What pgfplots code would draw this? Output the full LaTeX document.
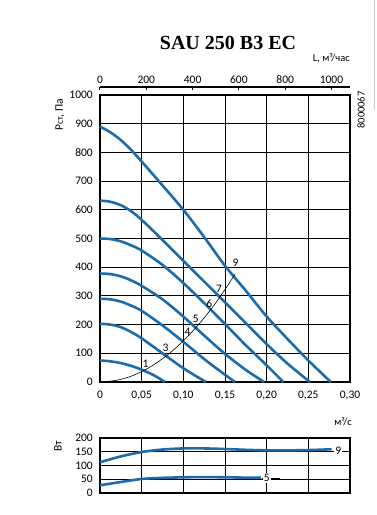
\documentclass[border=0pt]{standalone}
\usepackage{fontspec}
\setmainfont{Carlito}
\newfontfamily\titlefont{Liberation Serif}
\usepackage{pgfplots}
\pgfplotsset{compat=1.18}
\definecolor{fanblue}{RGB}{28,107,170}
\newcommand{\lblfont}{\fontsize{11.5}{13}\selectfont}
\begin{document}
\begin{tikzpicture}
\useasboundingbox (0pt,0pt) rectangle (376pt,515pt);
\pgfplotsset{
  every axis/.append style={
    scale only axis,
    /pgf/number format/assume math mode=true,
    /pgf/number format/1000 sep={},
    tick label style={font=\lblfont, inner sep=0pt},
    axis line style={black, line width=1.1pt},
    major grid style={black, line width=0.9pt},
  },
  fan/.style={fanblue, line width=2.6pt, smooth, no marks},
}
% main chart
\begin{axis}[at={(100pt,133pt)}, anchor=south west, width=250pt, height=287pt,
  xmin=0, xmax=0.3, ymin=0, ymax=1000,
  xtick={0,0.05,0.1,0.15,0.2,0.25,0.3},
  xticklabels={0,{0,05},{0,10},{0,15},{0,20},{0,25},{0,30}},
  ytick={0,100,200,300,400,500,600,700,800,900,1000},
  grid=major, major tick length=0pt,
  xticklabel style={yshift=-9pt},
  yticklabel style={xshift=-7pt},
  clip=false]
\addplot[fan] coordinates {(0,75)(0.0125,72)(0.025,66)(0.0375,56)(0.05,43)(0.065,23)(0.078,0)};
\addplot[fan] coordinates {(0,203)(0.0125,200)(0.025,191)(0.0375,174)(0.05,152)(0.075,100)(0.1,48)(0.127,0)};
\addplot[fan] coordinates {(0,290)(0.0125,288)(0.025,280)(0.0375,266)(0.05,248)(0.075,197)(0.1,140)(0.125,80)(0.145,36)(0.162,0)};
\addplot[fan] coordinates {(0,378)(0.0125,376)(0.025,368)(0.0375,354)(0.05,335)(0.075,288)(0.1,228)(0.125,162)(0.15,98)(0.175,42)(0.197,0)};
\addplot[fan] coordinates {(0,500)(0.0125,498)(0.025,490)(0.0375,476)(0.05,458)(0.075,408)(0.1,345)(0.125,275)(0.15,202)(0.175,128)(0.2,58)(0.22,0)};
\addplot[fan] coordinates {(0,632)(0.0125,628)(0.025,616)(0.0375,595)(0.05,565)(0.075,495)(0.1,422)(0.125,350)(0.15,278)(0.175,205)(0.2,132)(0.225,64)(0.252,0)};
\addplot[fan] coordinates {(0,890)(0.0125,870)(0.025,843)(0.0375,808)(0.05,768)(0.075,685)(0.1,600)(0.125,505)(0.15,405)(0.175,318)(0.2,228)(0.225,150)(0.25,75)(0.277,0)};
\addplot[black, line width=0.6pt, smooth, no marks] coordinates {(0,0)(0.02,6)(0.04,23)(0.06,52)(0.08,92)(0.1,143)(0.12,206)(0.14,280)(0.162,375)};
\node[font=\lblfont, inner sep=0pt] at (axis cs:0.0545,62) {1};
\node[font=\lblfont, inner sep=0pt] at (axis cs:0.0786,120) {3};
\node[font=\lblfont, inner sep=0pt] at (axis cs:0.105,174) {4};
\node[font=\lblfont, inner sep=0pt] at (axis cs:0.115,220) {5};
\node[font=\lblfont, inner sep=0pt] at (axis cs:0.131,273) {6};
\node[font=\lblfont, inner sep=0pt] at (axis cs:0.1427,325) {7};
\node[font=\lblfont, inner sep=0pt] at (axis cs:0.1627,415) {9};
\end{axis}
% top axis (m3/h)
\begin{axis}[at={(100pt,420pt)}, anchor=south west, width=250pt, height=8pt,
  xmin=0, xmax=1080, ymin=0, ymax=1,
  axis x line=top, axis y line=none, x axis line style={-},
  tick align=inside, major tick length=3.5pt,
  xtick={0,200,400,600,800,1000},
  xticklabel style={yshift=3pt},
  tick style={black, line width=1pt}]
\addplot[draw=none] coordinates {(0,0)(1000,1)};
\end{axis}
% power chart
\begin{axis}[at={(100pt,22pt)}, anchor=south west, width=250pt, height=55pt,
  xmin=0, xmax=0.3, ymin=0, ymax=200,
  xtick={0,0.05,0.1,0.15,0.2,0.25,0.3}, xticklabels={},
  ytick={0,50,100,150,200},
  grid=major, major tick length=0pt,
  yticklabel style={xshift=-7pt},
  clip=false]
\addplot[fan] coordinates {(0,112)(0.025,133)(0.05,149)(0.075,158)(0.1,162)(0.125,162)(0.15,160)(0.175,157)(0.2,155)(0.225,155)(0.25,156)(0.278,159)};
\addplot[fan] coordinates {(0,28)(0.025,40)(0.05,51)(0.075,55)(0.1,57)(0.125,58)(0.15,57)(0.175,56)(0.193,56)};
\addplot[black, line width=0.6pt, no marks] coordinates {(0.279,153)(0.299,153)};
\addplot[black, line width=0.6pt, no marks] coordinates {(0.194,55)(0.216,55)};
\node[font=\lblfont, fill=white, inner sep=1pt] at (axis cs:0.286,153) {9};
\node[font=\lblfont, fill=white, inner sep=1pt] at (axis cs:0.2,55) {5};
\end{axis}
% texts
\node[font=\titlefont\bfseries\fontsize{20}{23}\selectfont] at (228pt,472pt) {SAU 250 B3 EC};
\node[anchor=east, font=\fontsize{10.5}{12}\selectfont, inner sep=0pt] at (350pt,457pt) {L, м³/час};
\node[anchor=east, font=\fontsize{10.5}{12}\selectfont, inner sep=0pt] at (352pt,93pt) {м³/с};
\node[rotate=90, font=\lblfont, inner sep=0pt] at (60pt,400pt) {P{\fontsize{9.5}{10}\selectfont ст}, Па};
\node[rotate=90, font=\lblfont, inner sep=0pt] at (58pt,69pt) {Вт};
\node[rotate=90, font=\fontsize{10.5}{12}\selectfont, inner sep=0pt] at (361pt,405pt) {8000067};
\draw[gray!40, line width=0.8pt] (374pt,515pt) -- (374pt,405pt);
\end{tikzpicture}
\end{document}
